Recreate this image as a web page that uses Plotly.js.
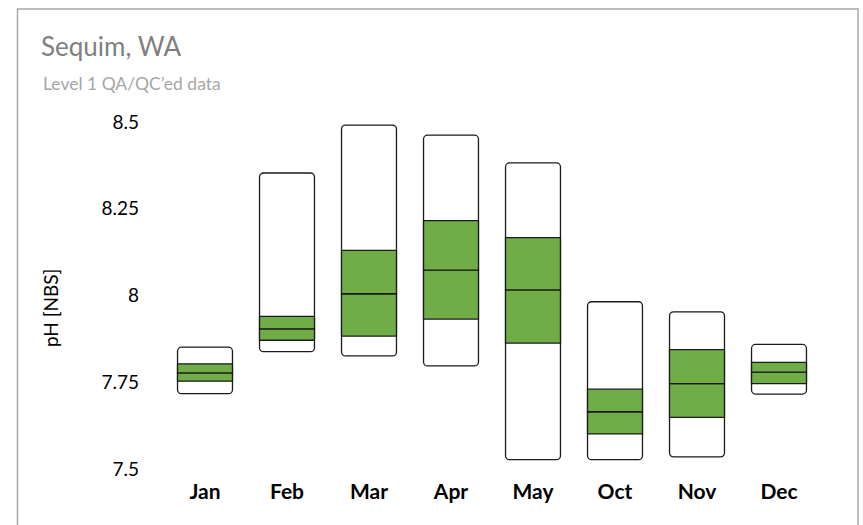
<!DOCTYPE html>
<html>
<head>
<meta charset="utf-8">
<script src="https://cdn.plot.ly/plotly-3.0.1.min.js"></script>
<style>
html,body{margin:0;padding:0;background:#fff;}
#chart{width:863px;height:525px;}
</style>
</head>
<body>
<div id="chart"></div>
<script>
const months = ['Jan','Feb','Mar','Apr','May','Oct','Nov','Dec'];
const minVals = [7.717, 7.838, 7.826, 7.797, 7.527, 7.527, 7.535, 7.716];
const q1Vals  = [7.753, 7.871, 7.883, 7.932, 7.863, 7.601, 7.649, 7.746];
const medVals = [7.777, 7.904, 8.005, 8.073, 8.016, 7.665, 7.746, 7.779];
const q3Vals  = [7.803, 7.940, 8.130, 8.216, 8.167, 7.730, 7.844, 7.807];
const maxVals = [7.851, 8.353, 8.491, 8.462, 8.382, 7.982, 7.953, 7.859];
const yTicks = [7.5, 7.75, 8, 8.25, 8.5];
const yTickText = ['7.5', '7.75', '8', '8.25', '8.5'];

const green = '#70ad47';
const edge = {color: '#1a1a1a', width: 1.3};
const diff = (a, b) => a.map((v, i) => v - b[i]);

const traces = [
  {type: 'bar', x: months, base: minVals, y: diff(maxVals, minVals),
   marker: {color: '#ffffff', line: edge, cornerradius: 4}, width: 0.67, hoverinfo: 'skip'},
  {type: 'bar', x: months, base: q1Vals, y: diff(medVals, q1Vals),
   marker: {color: green, line: edge}, width: 0.67, hoverinfo: 'skip'},
  {type: 'bar', x: months, base: medVals, y: diff(q3Vals, medVals),
   marker: {color: green, line: edge}, width: 0.67, hoverinfo: 'skip'}
];

const layout = {
  width: 863, height: 525,
  margin: {l: 164, r: 43, t: 122, b: 56},
  paper_bgcolor: '#ffffff', plot_bgcolor: '#ffffff',
  barmode: 'overlay',
  showlegend: false,
  font: {family: 'Lato, "Open Sans", sans-serif', color: '#000'},
  title: {text: 'Sequim, WA', x: 41/863, xanchor: 'left', xref: 'container',
          y: 1 - 47/525, yanchor: 'middle', yref: 'container',
          font: {size: 26, color: '#7f7f7f', family: 'Lato, sans-serif'}},
  xaxis: {type: 'category', range: [-0.5, 7.5], showgrid: false, zeroline: false,
          showline: false, ticks: '', ticklabelstandoff: 8,
          tickfont: {size: 21, family: 'Lato, sans-serif', weight: 'bold', color: '#000'}},
  yaxis: {range: [7.5, 8.5], tickvals: yTicks, ticktext: yTickText,
          showgrid: false, zeroline: false, showline: false, ticks: '',
          ticklabelstandoff: 24,
          tickfont: {size: 19, family: 'Lato, sans-serif', color: '#000'}},
  annotations: [
    {text: 'Level 1 QA/QC\u2019ed data', xref: 'paper', yref: 'paper',
     x: (41 - 164) / 656, y: (469 - 83) / 347, xanchor: 'left', yanchor: 'middle',
     showarrow: false, font: {size: 17.5, color: '#a6a6a6', family: 'Lato, sans-serif'}},
    {text: 'pH [NBS]', xref: 'paper', yref: 'paper', textangle: -90,
     x: (50 - 164) / 656, y: (469 - 308) / 347, xanchor: 'center', yanchor: 'middle',
     showarrow: false, font: {size: 19, color: '#000', family: 'Lato, sans-serif'}}
  ],
  shapes: [
    {type: 'rect', xref: 'paper', yref: 'paper', layer: 'below',
     x0: (17.5 - 164) / 656, x1: (858 - 164) / 656,
     y0: (469 - 540) / 347, y1: (469 - 9) / 347,
     line: {color: '#a8a8a8', width: 1.5}, fillcolor: 'rgba(0,0,0,0)'}
  ]
};

Plotly.newPlot('chart', traces, layout, {staticPlot: true, displayModeBar: false});
</script>
</body>
</html>
